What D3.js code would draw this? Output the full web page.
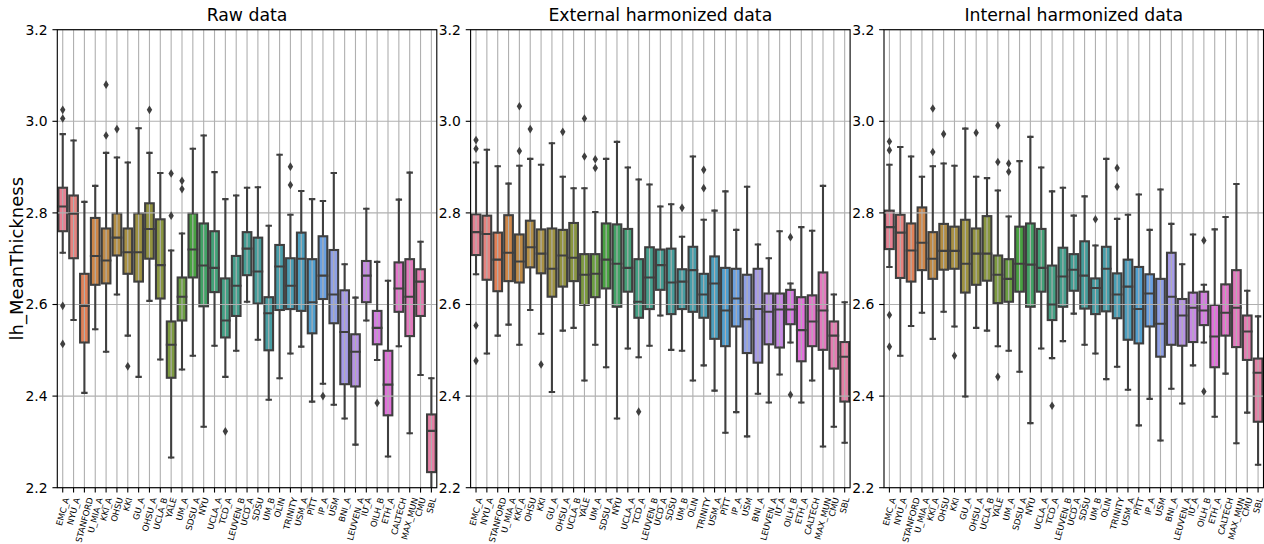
<!DOCTYPE html>
<html><head><meta charset="utf-8">
<script src="https://cdn.jsdelivr.net/npm/d3@7"></script>
<style>body{margin:0;background:#fff}svg{display:block}text{font-family:"DejaVu Sans",sans-serif;fill:#000}</style>
</head><body><svg id="c" width="1264" height="544"></svg>
<script>
const sites = ["EMC_A","NYU_A","STANFORD","U_MIA_A","KKI_A","OHSU","KKI","GU_A","OHSU_A","UCLA_B","YALE","UM_A","SDSU_A","NYU","UCLA_A","TCD_A","LEUVEN_B","UCD_A","SDSU","UM_B","OLIN","TRINITY","USM_A","PITT","IP_A","USM","BNI_A","LEUVEN_A","IU_A","OILH_B","ETH_A","CALTECH","MAX_MUN","CMU","SBL"];
const titles = ["Raw data","External harmonized data","Internal harmonized data"];
const yLabel = "lh_MeanThickness";
const yTicks = [2.2,2.4,2.6,2.8,3.0,3.2];

const rawLow  = [2.713,2.566,2.407,2.546,2.497,2.622,2.532,2.442,2.608,2.480,2.266,2.458,2.488,2.333,2.510,2.442,2.499,2.606,2.523,2.392,2.439,2.493,2.508,2.388,2.427,2.381,2.351,2.294,2.565,2.479,2.268,2.509,2.319,2.446,2.180];
const rawQ1   = [2.760,2.701,2.517,2.643,2.646,2.707,2.667,2.650,2.700,2.613,2.440,2.565,2.659,2.596,2.627,2.528,2.575,2.664,2.602,2.500,2.588,2.590,2.586,2.537,2.612,2.559,2.426,2.421,2.605,2.513,2.358,2.584,2.531,2.575,2.234];
const rawMed  = [2.814,2.798,2.597,2.706,2.696,2.746,2.714,2.714,2.765,2.686,2.512,2.617,2.720,2.685,2.680,2.565,2.641,2.722,2.672,2.581,2.683,2.641,2.700,2.605,2.663,2.622,2.540,2.497,2.663,2.549,2.425,2.635,2.617,2.650,2.324];
const rawQ3   = [2.855,2.838,2.667,2.789,2.766,2.799,2.766,2.799,2.821,2.786,2.563,2.659,2.799,2.777,2.760,2.657,2.706,2.758,2.746,2.616,2.730,2.701,2.757,2.699,2.749,2.719,2.631,2.535,2.695,2.586,2.499,2.692,2.699,2.677,2.360];
const rawHigh = [2.972,2.958,2.824,2.859,2.931,2.921,2.910,2.985,2.931,2.887,2.718,2.755,2.940,2.969,2.889,2.830,2.838,2.855,2.856,2.772,2.927,2.796,2.848,2.830,2.826,2.887,2.688,2.615,2.809,2.693,2.652,2.829,2.888,2.737,2.439];
const rawOut  = [[3.025,3.006,2.597,2.514],[],[],[],[3.080,2.969],[2.983],[2.465],[],[3.025],[],[2.886,2.794],[2.870,2.852],[],[],[],[2.323],[],[],[],[],[],[2.901,2.861],[],[],[2.400],[],[],[],[],[2.385],[],[],[],[],[]];

const extLow  = [2.666,2.493,2.532,2.556,2.512,2.588,2.536,2.409,2.543,2.549,2.434,2.512,2.463,2.351,2.504,2.485,2.510,2.576,2.501,2.499,2.434,2.467,2.412,2.320,2.365,2.312,2.405,2.386,2.447,2.517,2.386,2.434,2.290,2.333,2.298];
const extQ1   = [2.708,2.654,2.629,2.651,2.648,2.681,2.668,2.617,2.639,2.651,2.599,2.616,2.635,2.595,2.628,2.571,2.590,2.632,2.579,2.590,2.584,2.571,2.525,2.509,2.552,2.494,2.473,2.513,2.506,2.557,2.476,2.509,2.501,2.460,2.388];
const extMed  = [2.758,2.754,2.698,2.713,2.694,2.725,2.711,2.678,2.707,2.702,2.665,2.667,2.698,2.689,2.680,2.606,2.659,2.686,2.648,2.650,2.675,2.622,2.646,2.587,2.613,2.568,2.590,2.584,2.589,2.589,2.544,2.563,2.587,2.532,2.486];
const extQ3   = [2.797,2.794,2.757,2.795,2.753,2.783,2.764,2.766,2.763,2.778,2.710,2.710,2.777,2.775,2.765,2.699,2.725,2.720,2.722,2.677,2.726,2.667,2.705,2.680,2.678,2.665,2.678,2.624,2.624,2.632,2.616,2.620,2.670,2.563,2.518];
const extHigh = [2.910,2.938,2.902,2.864,2.903,2.918,2.905,2.952,2.879,2.854,2.854,2.802,2.918,2.955,2.899,2.873,2.862,2.814,2.819,2.748,2.923,2.785,2.805,2.847,2.763,2.857,2.731,2.701,2.760,2.646,2.769,2.761,2.859,2.622,2.605];
const extOut  = [[2.959,2.940,2.554,2.477],[],[],[],[3.033,2.935],[2.983],[2.469],[],[2.977],[],[3.006,2.923],[2.917,2.898],[],[],[],[2.366],[],[],[],[2.811],[],[2.894,2.854],[],[],[],[],[],[],[],[2.747,2.403],[],[],[],[],[]];

const intLow  = [2.682,2.488,2.553,2.582,2.525,2.584,2.552,2.399,2.549,2.543,2.509,2.499,2.453,2.341,2.504,2.483,2.520,2.580,2.512,2.493,2.437,2.464,2.414,2.336,2.394,2.303,2.416,2.384,2.467,2.517,2.355,2.449,2.297,2.364,2.250];
const intQ1   = [2.721,2.658,2.650,2.675,2.656,2.676,2.678,2.626,2.643,2.652,2.603,2.606,2.628,2.595,2.628,2.566,2.595,2.630,2.591,2.579,2.585,2.570,2.523,2.515,2.552,2.486,2.512,2.510,2.518,2.555,2.463,2.532,2.507,2.479,2.344];
const intMed  = [2.769,2.757,2.718,2.735,2.700,2.717,2.717,2.689,2.711,2.711,2.665,2.656,2.689,2.687,2.680,2.600,2.661,2.676,2.663,2.636,2.678,2.622,2.639,2.590,2.624,2.558,2.617,2.576,2.593,2.587,2.530,2.582,2.593,2.541,2.451];
const intQ3   = [2.805,2.796,2.777,2.812,2.758,2.776,2.770,2.785,2.766,2.793,2.707,2.699,2.770,2.777,2.765,2.685,2.724,2.710,2.738,2.657,2.726,2.668,2.698,2.682,2.666,2.656,2.713,2.612,2.626,2.628,2.599,2.644,2.675,2.576,2.482];
const intHigh = [2.905,2.944,2.923,2.879,2.902,2.908,2.903,2.984,2.879,2.876,2.849,2.792,2.913,2.966,2.899,2.847,2.855,2.794,2.836,2.729,2.918,2.787,2.796,2.840,2.763,2.851,2.776,2.688,2.753,2.643,2.764,2.791,2.863,2.630,2.574];
const intOut  = [[2.956,2.937,2.577,2.508],[],[],[],[3.028,2.933],[2.972],[2.488],[],[2.975],[],[2.991,2.911,2.442],[2.908,2.890],[],[],[],[2.379],[],[],[],[2.786],[],[2.898,2.857],[],[],[],[],[],[],[],[2.740,2.410],[],[],[],[],[]];

const panels = [
  {title: titles[0], low: rawLow, q1: rawQ1, med: rawMed, q3: rawQ3, high: rawHigh, out: rawOut},
  {title: titles[1], low: extLow, q1: extQ1, med: extMed, q3: extQ3, high: extHigh, out: extOut},
  {title: titles[2], low: intLow, q1: intQ1, med: intMed, q3: intQ3, high: intHigh, out: intOut}
];

// ---- seaborn husl palette ----
const M = [[3.2406,-1.5372,-0.4986],[-0.9689,1.8758,0.0415],[0.0557,-0.2040,1.0570]];
const refU=0.19784, refV=0.46834, kappa=903.2962962, eps=0.0088564516;
function maxChroma(L,H){
  const hr=H/360*2*Math.PI, sH=Math.sin(hr), cH=Math.cos(hr);
  const sub1=Math.pow(L+16,3)/1560896, sub2=sub1>eps?sub1:L/kappa;
  let res=Infinity;
  for(const [m1,m2,m3] of M){
    const top=(0.99915*m1+1.05122*m2+1.14460*m3)*sub2;
    const rb=0.86330*m3-0.17266*m2, lb=0.12949*m3-0.38848*m1;
    const bot=(rb*sH+lb*cH)*sub2;
    for(const t of [0,1]){const C=L*(top-1.05122*t)/(bot+0.17266*sH*t); if(C>0&&C<res)res=C;}
  }
  return res;
}
function huslToRgb(H,S,L){
  const C=maxChroma(L,H)/100*S, hr=H/360*2*Math.PI;
  const U=Math.cos(hr)*C, V=Math.sin(hr)*C;
  const t=(L+16)/116, Y=t*t*t>eps?t*t*t:(116*t-16)/kappa;
  const vU=U/(13*L)+refU, vV=V/(13*L)+refV;
  const X=-(9*Y*vU)/((vU-4)*vV-vU*vV);
  const Z=(9*Y-15*vV*Y-vV*X)/(3*vV);
  return M.map(r=>{const c=r[0]*X+r[1]*Y+r[2]*Z; const v=c<=0.0031308?12.92*c:1.055*Math.pow(c,1/2.4)-0.055; return Math.min(1,Math.max(0,v));});
}
const n=sites.length;
const base=d3.range(n).map(i=>huslToRgb(((i/n+0.01)%1)*359,0.9*99,0.65*99));
const lum=d3.min(base,c=>(Math.max(...c)+Math.min(...c))/2)*0.6;
const gray=d3.rgb(Math.round(lum*255),Math.round(lum*255),Math.round(lum*255)).formatHex();
const colors=base.map(c=>{const h=d3.hsl(d3.rgb(c[0]*255,c[1]*255,c[2]*255)); h.s*=0.75; return h.formatHex();});

// ---- layout ----
const svg=d3.select('#c');
const pLeft=[57.3,470.6,884.0], pW=379.5, pTop=29.7, pBot=487.7;
const y=d3.scaleLinear().domain([2.2,3.2]).range([pBot,pTop]);
const LW=2.08, GRID=1.11, TICK=4.86, PAD=4.86;
const xtFont=8.5, xtRot=75, xtPad=3.9;

panels.forEach((p,k)=>{
  const L=pLeft[k];
  const x=d3.scaleBand().domain(sites).range([L,L+pW]).padding(0);
  const bw=x.bandwidth(), cx=d=>x(d)+bw/2, boxW=bw*0.8, capW=boxW*0.5;
  const g=svg.append('g');
  const clipId='clip'+k;
  svg.append('clipPath').attr('id',clipId).append('rect').attr('x',L).attr('y',pTop).attr('width',pW).attr('height',pBot-pTop);
  g.append('g').attr('clip-path',`url(#${clipId})`).selectAll('rect').data(sites).join('rect')
    .attr('x',d=>cx(d)-boxW/2).attr('width',boxW)
    .attr('y',(d,i)=>y(p.q3[i])).attr('height',(d,i)=>y(p.q1[i])-y(p.q3[i]))
    .attr('fill',(d,i)=>colors[i]).attr('stroke',gray).attr('stroke-width',LW);
  const gg=g.append('g').attr('stroke','#b0b0b0').attr('stroke-width',GRID);
  gg.selectAll('line.v').data(sites).join('line').attr('class','v')
    .attr('x1',cx).attr('x2',cx).attr('y1',pTop).attr('y2',pBot);
  gg.selectAll('line.h').data(yTicks).join('line').attr('class','h')
    .attr('x1',L).attr('x2',L+pW).attr('y1',d=>y(d)).attr('y2',d=>y(d));
  const lg=g.append('g').attr('clip-path',`url(#${clipId})`).attr('stroke',gray).attr('stroke-width',LW).attr('stroke-linecap','square');
  sites.forEach((s,i)=>{
    const c=cx(s);
    lg.append('line').attr('x1',c).attr('x2',c).attr('y1',y(p.q1[i])).attr('y2',y(p.low[i]));
    lg.append('line').attr('x1',c).attr('x2',c).attr('y1',y(p.q3[i])).attr('y2',y(p.high[i]));
    lg.append('line').attr('x1',c-capW/2).attr('x2',c+capW/2).attr('y1',y(p.low[i])).attr('y2',y(p.low[i]));
    lg.append('line').attr('x1',c-capW/2).attr('x2',c+capW/2).attr('y1',y(p.high[i])).attr('y2',y(p.high[i]));
    lg.append('line').attr('x1',c-boxW/2).attr('x2',c+boxW/2).attr('y1',y(p.med[i])).attr('y2',y(p.med[i]));
    p.out[i].forEach(v=>{
      const yy=y(v);
      g.append('path').attr('d',`M${c},${yy-4.3}L${c+2.7},${yy}L${c},${yy+4.3}L${c-2.7},${yy}Z`).attr('fill',gray);
    });
  });
  g.append('rect').attr('x',L).attr('y',pTop).attr('width',pW).attr('height',pBot-pTop)
    .attr('fill','none').attr('stroke','#000').attr('stroke-width',1.11);
  const ya=g.append('g');
  yTicks.forEach(t=>{
    ya.append('line').attr('x1',L-TICK).attr('x2',L).attr('y1',y(t)).attr('y2',y(t)).attr('stroke','#000').attr('stroke-width',1.11);
    ya.append('text').attr('x',L-TICK-PAD).attr('y',y(t)).attr('dy','0.35em').attr('text-anchor','end')
      .style('font-size','13.9px').text(d3.format('.1f')(t));
  });
  const th=xtRot*Math.PI/180;
  sites.forEach(s=>{
    const c=cx(s);
    g.append('line').attr('x1',c).attr('x2',c).attr('y1',pBot).attr('y2',pBot+TICK).attr('stroke','#000').attr('stroke-width',1.11);
    const t=g.append('text').style('font-size',xtFont+'px').attr('text-anchor','middle').text(s);
    const Lt=t.node().getComputedTextLength(), hh=xtFont*1.164;
    const bh=Lt*Math.sin(th)+hh*Math.cos(th);
    const cy=pBot+TICK+xtPad+bh/2;
    t.attr('transform',`translate(${c},${cy}) rotate(${-xtRot})`).attr('y',0.346*xtFont);
  });
  g.append('text').attr('x',L+pW/2).attr('y',pTop-8.3).attr('text-anchor','middle').style('font-size','17.3px').text(p.title);
});
svg.append('text').attr('transform',`translate(17,${(pTop+pBot)/2}) rotate(-90)`).attr('text-anchor','middle')
  .attr('dy','0.35em').style('font-size','18px').text(yLabel);
</script></body></html>
